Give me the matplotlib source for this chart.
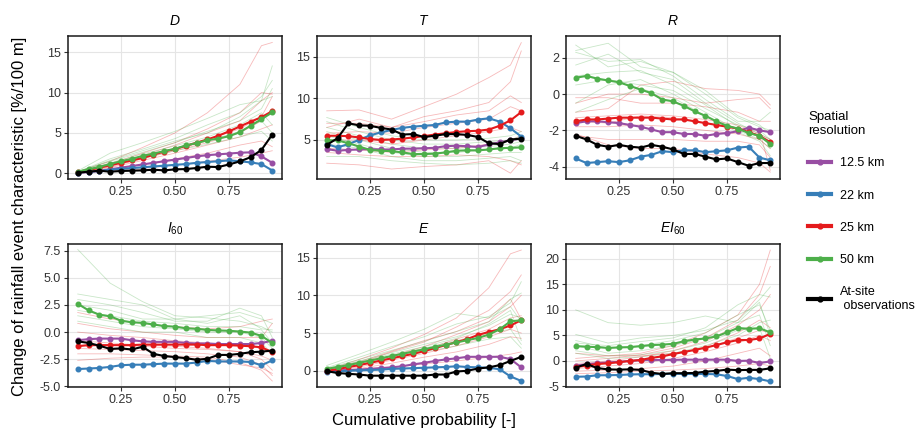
import matplotlib.pyplot as plt
from matplotlib.lines import Line2D

plt.rcParams['font.family'] = ['Liberation Sans', 'DejaVu Sans']
plt.rcParams['mathtext.fontset'] = 'custom'
plt.rcParams['mathtext.it'] = 'Liberation Sans:italic'
plt.rcParams['mathtext.rm'] = 'Liberation Sans'

# cumulative probability levels of the summary curves and of the single runs
prob = [0.05, 0.10, 0.15, 0.20, 0.25, 0.30, 0.35, 0.40, 0.45, 0.50,
        0.55, 0.60, 0.65, 0.70, 0.75, 0.80, 0.85, 0.90, 0.95]
run_prob = [0.05, 0.20, 0.35, 0.50, 0.65, 0.80, 0.90, 0.95]

res_labels = ['12.5 km', '22 km', '25 km', '50 km', 'At-site\n observations']
res_colors = ['#984EA3', '#377EB8', '#E41A1C', '#4DAF4A', 'black']

# ---- D ----
d_125 = [0.08, 0.16, 0.3, 0.5, 0.7, 0.9, 1.1, 1.3, 1.5, 1.7, 1.9, 2.1, 2.25, 2.35, 2.45, 2.55, 2.6, 2.1, 1.3]
d_22 = [0.1, 0.2, 0.3, 0.45, 0.55, 0.65, 0.75, 0.85, 0.95, 1.05, 1.15, 1.3, 1.4, 1.5, 1.6, 1.5, 1.35, 1.15, 0.35]
d_25 = [0.15, 0.4, 0.7, 1.0, 1.3, 1.6, 1.9, 2.3, 2.7, 3.0, 3.4, 3.8, 4.2, 4.65, 5.2, 5.8, 6.4, 6.95, 7.7]
d_50 = [0.2, 0.5, 0.8, 1.15, 1.5, 1.8, 2.15, 2.45, 2.75, 3.05, 3.45, 3.75, 4.1, 4.3, 4.6, 5.1, 5.9, 6.7, 7.55]
d_obs = [0.08, 0.2, 0.33, 0.2, 0.29, 0.33, 0.37, 0.45, 0.37, 0.49, 0.53, 0.66, 0.82, 0.78, 1.1, 1.48, 2.0, 2.9, 4.8]
d_runs_25 = [[0.2, 1.5, 3.2, 5.0, 7.5, 11.0, 15.8, 16.2],
             [0.1, 1.2, 2.5, 3.8, 5.5, 7.5, 10.0, 9.8],
             [0.1, 1.0, 2.2, 3.5, 5.0, 6.5, 9.0, 10.0],
             [0.1, 0.9, 2.0, 3.0, 4.2, 5.5, 7.0, 9.5],
             [0.0, 0.7, 1.6, 2.5, 3.5, 4.5, 5.5, 6.0],
             [0.0, 0.5, 1.1, 1.8, 2.5, 3.5, 4.0, 3.3],
             [0.0, 0.3, 0.6, 1.0, 1.5, 2.0, 2.5, 2.8],
             [0.1, 0.8, 1.8, 2.8, 3.8, 5.0, 6.5, 8.0]]
d_runs_50 = [[0.3, 2.5, 3.8, 5.2, 6.8, 8.5, 9.0, 13.3],
             [0.2, 1.8, 3.0, 4.3, 6.0, 7.5, 9.5, 11.5],
             [0.2, 1.5, 2.6, 3.8, 5.2, 6.5, 8.0, 10.5],
             [0.1, 1.3, 2.4, 3.4, 4.5, 6.0, 7.5, 6.0],
             [0.1, 1.1, 2.1, 3.0, 4.0, 5.2, 6.5, 5.0],
             [0.2, 1.6, 2.8, 4.0, 5.0, 7.0, 9.0, 9.5],
             [0.1, 1.0, 1.9, 2.8, 3.6, 4.5, 5.2, 4.0]]

# ---- T ----
t_125 = [3.9, 3.7, 3.8, 3.85, 3.9, 3.85, 3.85, 3.95, 3.95, 4.0, 4.05, 4.25, 4.3, 4.25, 4.15, 4.45, 4.7, 4.95, 5.2]
t_22 = [4.5, 4.1, 4.5, 5.0, 5.55, 5.9, 6.2, 6.45, 6.6, 6.7, 6.8, 7.1, 7.2, 7.2, 7.45, 7.6, 7.2, 6.4, 5.4]
t_25 = [5.5, 5.5, 5.45, 5.3, 5.1, 5.0, 5.05, 5.15, 5.3, 5.45, 5.65, 5.8, 5.95, 6.05, 6.1, 6.25, 6.7, 7.35, 8.35]
t_50 = [4.95, 4.95, 4.6, 4.2, 3.8, 3.7, 3.65, 3.5, 3.3, 3.3, 3.35, 3.5, 3.7, 3.75, 3.75, 3.85, 4.0, 4.05, 4.1]
t_obs = [4.4, 5.2, 7.0, 6.75, 6.7, 6.45, 6.25, 5.65, 5.7, 5.35, 5.5, 5.7, 5.7, 5.6, 5.35, 4.6, 4.5, 5.05, 5.15]
t_runs_25 = [[8.5, 8.6, 7.5, 9.0, 10.5, 12.5, 14.0, 16.7],
             [7.0, 7.0, 6.5, 7.8, 8.5, 9.5, 12.0, 15.7],
             [6.5, 7.5, 6.5, 7.2, 8.0, 8.5, 10.3, 9.5],
             [5.8, 6.0, 5.8, 6.5, 7.0, 7.5, 9.0, 8.5],
             [5.0, 5.0, 4.5, 5.0, 5.5, 6.0, 6.5, 6.0],
             [4.0, 3.8, 3.5, 3.8, 4.0, 4.5, 5.0, 5.5],
             [2.2, 2.0, 1.5, 1.8, 2.0, 2.5, 1.0, 2.5],
             [3.5, 3.2, 3.0, 3.0, 3.2, 3.0, 2.5, 2.0]]
t_runs_50 = [[7.7, 6.5, 5.5, 5.0, 5.0, 5.2, 5.5, 6.0],
             [7.2, 6.0, 5.0, 4.5, 4.5, 4.8, 5.0, 5.5],
             [6.5, 5.5, 4.5, 4.0, 4.0, 4.2, 4.5, 4.8],
             [6.0, 5.0, 4.0, 3.5, 3.5, 3.8, 4.0, 4.5],
             [5.5, 4.5, 3.5, 3.0, 3.0, 3.3, 3.5, 3.5],
             [4.5, 4.0, 3.0, 2.5, 2.5, 2.8, 3.0, 2.5],
             [3.0, 3.0, 2.5, 2.2, 2.0, 2.2, 2.5, 2.2]]

# ---- R ----
r_125 = [-1.6, -1.5, -1.5, -1.55, -1.6, -1.7, -1.8, -1.95, -2.1, -2.1, -2.2, -2.2, -2.3, -2.2, -2.15, -2.05, -1.85, -2.0, -2.1]
r_22 = [-3.55, -3.8, -3.75, -3.7, -3.75, -3.65, -3.45, -3.35, -3.15, -3.2, -3.1, -3.1, -3.2, -3.15, -3.1, -2.95, -2.9, -3.5, -3.65]
r_25 = [-1.5, -1.4, -1.4, -1.35, -1.3, -1.3, -1.3, -1.3, -1.35, -1.4, -1.4, -1.5, -1.6, -1.7, -1.8, -1.9, -2.1, -2.3, -2.65]
r_50 = [0.9, 1.0, 0.85, 0.75, 0.65, 0.45, 0.25, 0.05, -0.3, -0.4, -0.65, -0.95, -1.2, -1.5, -1.75, -1.9, -2.15, -2.3, -2.75]
r_obs = [-2.3, -2.5, -2.8, -2.9, -2.8, -2.9, -2.95, -2.8, -2.9, -3.05, -3.3, -3.3, -3.45, -3.6, -3.55, -3.75, -3.95, -3.8, -3.8]
r_runs_25 = [[-1.0, -0.8, 0.5, 0.7, 0.3, 0.2, 0.0, -0.6],
             [-0.5, 0.0, 0.0, -0.2, -0.5, -0.3, -0.2, -0.8],
             [-0.2, -0.2, -0.5, -0.5, -0.7, -1.0, -1.5, -1.5],
             [-1.3, -1.2, -1.1, -1.2, -1.4, -1.7, -2.2, -2.5],
             [-1.8, -1.8, -1.7, -1.8, -2.0, -2.2, -2.5, -3.0],
             [-2.3, -2.5, -2.5, -2.5, -2.6, -2.6, -2.8, -3.5],
             [-2.2, -2.8, -3.0, -3.0, -3.3, -3.5, -3.8, -4.3],
             [-1.5, -1.6, -1.2, -1.3, -1.6, -1.9, -2.0, -4.2]]
r_runs_50 = [[2.4, 2.8, 1.5, 1.2, 0.0, -1.3, -1.8, -2.0],
             [2.3, 1.8, 1.9, 1.0, -0.3, -1.5, -1.5, -1.0],
             [1.6, 2.2, 1.2, 0.8, -0.5, -1.6, -2.2, -2.5],
             [1.0, 1.2, 1.3, 0.5, -0.6, -1.8, -2.3, -2.8],
             [0.5, 0.8, 0.5, 0.2, -0.8, -1.7, -2.0, -2.5],
             [-0.5, 0.5, 0.8, 0.0, -1.0, -2.0, -2.5, -3.0],
             [-1.0, -0.3, 0.3, -0.2, -1.2, -2.1, -2.6, -3.4],
             [2.7, 1.5, 1.8, 1.2, 0.2, -1.2, -1.7, -2.2]]

# ---- I60 ----
i_125 = [-0.75, -0.65, -0.6, -0.6, -0.6, -0.75, -0.85, -0.9, -0.9, -0.9, -1.0, -1.05, -1.05, -1.1, -1.1, -1.1, -1.1, -1.0, -0.8]
i_22 = [-3.4, -3.35, -3.3, -3.2, -3.05, -3.0, -3.0, -2.95, -2.9, -2.9, -2.9, -2.8, -2.65, -2.7, -2.7, -2.7, -2.75, -3.05, -2.6]
i_25 = [-1.3, -1.2, -1.2, -1.2, -1.2, -1.2, -1.15, -1.15, -1.15, -1.15, -1.15, -1.15, -1.2, -1.2, -1.2, -1.25, -1.3, -1.4, -1.85]
i_50 = [2.6, 2.0, 1.6, 1.45, 1.05, 0.9, 0.85, 0.7, 0.55, 0.5, 0.35, 0.3, 0.2, 0.15, 0.12, 0.05, -0.05, -0.35, -1.0]
i_obs = [-0.85, -1.0, -1.25, -1.55, -1.5, -1.6, -1.35, -2.0, -2.2, -2.3, -2.4, -2.55, -2.45, -2.1, -2.1, -2.0, -1.85, -1.8, -1.7]
i_runs_25 = [[1.8, 1.2, 0.8, 0.5, 0.3, 0.5, 1.0, 1.2],
             [0.8, 0.3, 0.0, -0.3, -0.5, -0.5, -0.5, 0.8],
             [0.0, -0.3, -0.5, -0.8, -1.0, -1.2, -1.5, -2.0],
             [-0.8, -1.0, -1.2, -1.3, -1.5, -1.8, -2.5, -3.5],
             [-1.5, -1.6, -1.7, -1.8, -2.0, -2.3, -3.0, -4.0],
             [-2.0, -2.0, -2.1, -2.2, -2.3, -2.8, -3.5, -4.5],
             [-2.6, -2.4, -2.3, -2.3, -2.5, -3.0, -3.3, -3.8],
             [-1.2, -1.2, -1.3, -1.5, -1.6, -1.8, -2.2, -2.6]]
i_runs_50 = [[7.6, 4.5, 2.8, 1.5, 1.3, 1.0, 0.5, 0.0],
             [3.5, 3.0, 2.5, 1.2, 1.5, 1.8, 1.2, 0.8],
             [3.0, 2.5, 1.8, 1.0, 1.0, 2.2, 1.5, -0.5],
             [2.0, 1.5, 1.0, 0.8, 0.5, 0.5, 0.2, -1.0],
             [1.5, 1.0, 0.5, 0.3, 0.0, 0.0, -0.5, -1.5],
             [1.0, 0.5, 0.0, 0.0, -0.5, -0.5, -1.0, -2.0],
             [2.5, 2.0, 1.2, 1.2, 0.8, 1.5, 0.3, 0.2]]

# ---- E ----
e_125 = [-0.05, 0.05, 0.1, 0.15, 0.25, 0.35, 0.45, 0.6, 0.85, 1.05, 1.3, 1.5, 1.65, 1.85, 1.85, 1.85, 1.85, 1.55, 0.45]
e_22 = [-0.2, -0.05, 0.0, 0.05, 0.1, 0.15, 0.25, 0.3, 0.35, 0.4, 0.45, 0.5, 0.6, 0.5, 0.45, 0.4, 0.2, -0.75, -1.35]
e_25 = [0.0, 0.2, 0.5, 0.75, 1.05, 1.35, 1.65, 1.95, 2.25, 2.6, 3.0, 3.4, 3.8, 4.2, 4.75, 5.15, 5.5, 6.0, 6.7]
e_50 = [0.25, 0.5, 0.75, 1.05, 1.35, 1.65, 1.95, 2.25, 2.55, 2.85, 3.15, 3.45, 3.75, 4.05, 4.35, 4.8, 5.5, 6.55, 6.7]
e_obs = [-0.05, -0.3, -0.4, -0.5, -0.65, -0.65, -0.65, -0.65, -0.65, -0.65, -0.5, -0.5, -0.1, 0.0, 0.3, 0.45, 0.75, 1.3, 1.85]
e_runs_25 = [[0.1, 1.5, 3.0, 4.8, 7.0, 11.0, 15.5, 16.0],
             [0.1, 1.0, 2.5, 3.8, 5.8, 8.0, 10.5, 12.7],
             [0.0, 0.8, 2.0, 3.2, 4.8, 6.5, 8.5, 10.0],
             [0.0, 0.7, 1.8, 2.8, 4.2, 5.5, 7.0, 7.3],
             [0.0, 0.5, 1.4, 2.3, 3.3, 4.5, 5.5, 5.0],
             [-0.2, 0.3, 1.0, 1.8, 2.5, 3.5, 4.5, 4.3],
             [-0.1, 0.2, 0.5, 0.9, 1.3, 1.8, 2.2, 2.5],
             [0.1, 1.2, 2.6, 4.0, 5.2, 7.0, 9.5, 6.8]]
e_runs_50 = [[0.7, 2.2, 3.8, 5.5, 7.6, 7.0, 8.5, 6.5],
             [0.4, 1.8, 3.2, 4.5, 6.2, 7.2, 9.0, 11.8],
             [0.3, 1.5, 2.7, 3.9, 5.2, 6.5, 9.5, 10.3],
             [0.2, 1.3, 2.4, 3.5, 4.5, 6.0, 7.5, 7.0],
             [0.1, 1.1, 2.0, 3.0, 4.0, 5.0, 5.5, 3.5],
             [0.2, 1.2, 2.2, 3.2, 4.3, 6.2, 8.0, 4.0],
             [0.0, 0.8, 1.6, 2.5, 3.3, 4.2, 4.5, 3.0]]

# ---- EI60 ----
ei_125 = [-0.9, -0.65, -0.45, -0.3, -0.15, 0.0, 0.15, 0.2, 0.2, 0.2, 0.25, 0.25, 0.25, 0.25, 0.25, 0.0, 0.05, -0.4, -0.1]
ei_22 = [-3.1, -3.05, -2.8, -2.8, -2.75, -2.65, -2.6, -2.6, -2.55, -2.5, -2.55, -2.55, -2.55, -2.6, -2.95, -3.55, -3.3, -3.55, -4.0]
ei_25 = [-1.2, -0.9, -0.6, -0.45, -0.25, 0.0, 0.2, 0.6, 0.9, 1.35, 1.75, 2.15, 2.6, 3.1, 3.65, 4.1, 4.1, 4.4, 5.3]
ei_50 = [2.9, 2.8, 2.7, 2.55, 2.65, 2.7, 2.9, 3.1, 3.2, 3.35, 3.85, 4.2, 4.4, 4.8, 5.6, 6.45, 6.3, 6.4, 5.6]
ei_obs = [-1.3, -0.6, -1.4, -1.65, -1.7, -1.65, -1.75, -2.3, -2.55, -2.4, -2.4, -2.35, -2.1, -1.95, -1.7, -1.8, -1.75, -1.75, -1.45]
ei_runs_25 = [[0.5, 1.0, 1.5, 3.0, 5.5, 9.0, 15.0, 21.7],
              [0.0, 0.5, 1.2, 2.5, 4.5, 8.0, 13.0, 18.5],
              [-0.5, 0.0, 0.8, 2.0, 3.8, 7.0, 10.0, 13.0],
              [-1.0, -0.5, 0.2, 1.2, 2.8, 5.5, 8.0, 6.5],
              [-1.5, -1.0, -0.5, 0.5, 1.8, 3.5, 5.0, 4.0],
              [-2.0, -1.8, -1.5, -1.0, 0.0, 1.5, 2.5, 1.0],
              [1.5, 1.0, 1.0, 1.5, 2.5, 4.5, 6.0, 5.5],
              [-2.5, -2.3, -2.0, -1.8, -1.5, -1.0, -0.5, -1.0]]
ei_runs_50 = [[10.0, 7.5, 7.0, 7.5, 8.8, 7.5, 11.5, 5.0],
              [5.2, 3.5, 4.5, 5.0, 6.0, 8.0, 12.0, 14.5],
              [4.0, 2.5, 3.0, 4.0, 5.5, 9.0, 11.0, 6.0],
              [3.0, 1.5, 2.0, 3.0, 4.5, 7.5, 9.0, 3.0],
              [2.0, 1.0, 1.2, 2.0, 3.5, 6.0, 6.5, 0.5],
              [1.5, 0.5, 0.8, 1.5, 3.0, 5.0, 7.5, 8.0],
              [3.5, 3.0, 3.8, 4.5, 6.5, 11.0, 13.0, 12.5]]

panels = [
    ('$D$', [d_125, d_22, d_25, d_50, d_obs], d_runs_25, d_runs_50, (-0.7, 17.0), [0, 5, 10, 15], '{:.0f}'),
    ('$T$', [t_125, t_22, t_25, t_50, t_obs], t_runs_25, t_runs_50, (0.3, 17.5), [5, 10, 15], '{:.0f}'),
    ('$R$', [r_125, r_22, r_25, r_50, r_obs], r_runs_25, r_runs_50, (-4.68, 3.2), [-4, -2, 0, 2], '{:.0f}'),
    ('$I_{60}$', [i_125, i_22, i_25, i_50, i_obs], i_runs_25, i_runs_50, (-5.05, 8.1), [-5, -2.5, 0, 2.5, 5, 7.5], '{:.1f}'),
    ('$E$', [e_125, e_22, e_25, e_50, e_obs], e_runs_25, e_runs_50, (-2.15, 16.8), [0, 5, 10, 15], '{:.0f}'),
    ('$EI_{60}$', [ei_125, ei_22, ei_25, ei_50, ei_obs], ei_runs_25, ei_runs_50, (-5.1, 22.9), [-5, 0, 5, 10, 15, 20], '{:.0f}'),
]

W, H = 919, 432
fig = plt.figure(figsize=(W / 100, H / 100), dpi=100)

lefts = [68, 317, 566]
tops = [36, 244]
pw, ph = 214, 143

for k, (title, series, runs_25, runs_50, ylim, yticks, fmt) in enumerate(panels):
    row, col = divmod(k, 3)
    ax = fig.add_axes([lefts[col] / W, 1 - (tops[row] + ph) / H, pw / W, ph / H])

    # individual model runs
    for run in runs_25:
        ax.plot(run_prob, run, color='#E41A1C', lw=0.6, alpha=0.3, zorder=2)
    for run in runs_50:
        ax.plot(run_prob, run, color='#4DAF4A', lw=0.6, alpha=0.3, zorder=2)

    # summary curves per resolution
    for vals, c in zip(series, res_colors):
        ax.plot(prob, vals, color=c, lw=1.5, marker='o', ms=3.3, zorder=3)

    ax.set_xlim(0.005, 0.995)
    ax.set_ylim(*ylim)
    ax.set_xticks([0.25, 0.5, 0.75])
    ax.set_xticklabels(['0.25', '0.50', '0.75'])
    ax.set_yticks(yticks)
    ax.set_yticklabels([fmt.format(v) for v in yticks])
    ax.grid(True, color='#E5E5E5', lw=0.8, zorder=0)
    ax.set_axisbelow(True)
    ax.tick_params(labelsize=9, labelcolor='#333333', color='#333333', length=3, width=0.8, pad=2)
    for s in ax.spines.values():
        s.set_color('#1A1A1A')
        s.set_linewidth(1.1)
    ax.set_title(title, fontsize=10, pad=8)

fig.text(20 / W, 0.5, 'Change of rainfall event characteristic [%/100 m]',
         rotation=90, ha='center', va='center', fontsize=12)
fig.text(424 / W, 1 - 420 / H, 'Cumulative probability [-]',
         ha='center', va='center', fontsize=12)

handles = [Line2D([], [], color=c, lw=3, marker='o', ms=3.5) for c in res_colors]
leg = fig.legend(handles, res_labels, loc='upper left', bbox_to_anchor=(797 / W, 1 - 100 / H),
                 title='Spatial\nresolution', frameon=False, fontsize=9, title_fontsize=9.5,
                 handlelength=1.8, labelspacing=1.62, handletextpad=0.7)
leg._legend_box.align = 'left'

fig.savefig('out.png', dpi=100)
